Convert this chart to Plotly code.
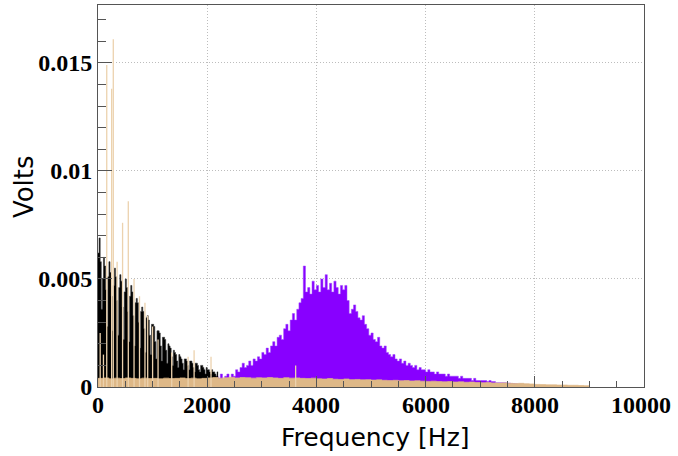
import numpy as np
import plotly.graph_objects as go

# ---------------- data (Volts vs Frequency [Hz]) ----------------
black_start, black_width = 0, 20
black_vals = [
    0.0062, 0.0069, 0.0058, 0.0036, 0.0050,
    0.0060, 0.0056, 0.0045, 0.0028, 0.0051,
    0.0058, 0.0053, 0.0042, 0.0026, 0.0047,
    0.0055, 0.0051, 0.0040, 0.0024, 0.0046,
    0.0052, 0.0049, 0.0037, 0.0022, 0.0044,
    0.0050, 0.0046, 0.0035, 0.0021, 0.0042,
    0.0047, 0.0044, 0.0033, 0.0019, 0.0039,
    0.0041, 0.0039, 0.0030, 0.0018, 0.0035,
    0.0037, 0.0035, 0.0027, 0.0016, 0.0032,
    0.0033, 0.0031, 0.0024, 0.0015, 0.0029,
    0.0029, 0.0028, 0.0021, 0.0013, 0.0026,
    0.0026, 0.0025, 0.0019, 0.0012, 0.0023,
    0.0023, 0.0022, 0.0017, 0.0011, 0.0020,
    0.0019, 0.0018, 0.0014, 0.0010, 0.0017,
    0.0016, 0.0015, 0.0012, 0.0009, 0.0015,
    0.0014, 0.0013, 0.0011, 0.0008, 0.0013,
    0.0013, 0.0012, 0.0010, 0.0008, 0.0012,
    0.0012, 0.0011, 0.0009, 0.0007, 0.0011,
    0.0011, 0.0010, 0.0008, 0.0007, 0.0010,
    0.0010, 0.0009, 0.0008, 0.0006, 0.0009,
    0.0008, 0.0008, 0.0007, 0.0006, 0.0008,
    0.0007, 0.0007, 0.0006, 0.0005, 0.0007,
]

purple_start, purple_width = 2120, 40
purple_vals = [
    0.0003, 0.0005, 0.0004, 0.0006, 0.0003, 0.0005, 0.0006, 0.0004, 0.0006, 0.0005,
    0.0008, 0.0007, 0.0009, 0.0011, 0.0009, 0.0010, 0.0012, 0.0010, 0.0013, 0.0012,
    0.0014, 0.0013, 0.0016, 0.0015, 0.0018, 0.0016, 0.0019, 0.0021, 0.0019, 0.0023,
    0.0024, 0.0022, 0.0027, 0.0029, 0.0026, 0.0031, 0.0034, 0.0031, 0.0036, 0.0039,
    0.0041, 0.0056, 0.0044, 0.0046, 0.0043, 0.0049, 0.0045, 0.0047, 0.0044, 0.0050,
    0.0046, 0.0052, 0.0045, 0.0048, 0.0044, 0.0049, 0.0046, 0.0043, 0.0047, 0.0045,
    0.0047, 0.0040, 0.0034, 0.0036, 0.0038, 0.0035, 0.0032, 0.0031, 0.0033, 0.0029,
    0.0027, 0.0024, 0.0025, 0.0022, 0.0021, 0.0023, 0.0019, 0.0018, 0.0019, 0.0016,
    0.0015, 0.0014, 0.0015, 0.0013, 0.0012, 0.0013, 0.0011, 0.0012, 0.0010, 0.0011,
    0.0010, 0.0009, 0.0010, 0.0008, 0.0009, 0.0008, 0.0008, 0.0007, 0.0008, 0.0007,
    0.0007, 0.0006, 0.0007, 0.0006, 0.0006, 0.0006, 0.0005, 0.0006, 0.0005, 0.0005,
    0.0005, 0.0005, 0.0004, 0.0005, 0.0004, 0.0004, 0.0004, 0.0004, 0.0003, 0.0004,
    0.0003, 0.0003, 0.0003, 0.0003, 0.0003, 0.00025, 0.0003, 0.00025, 0.00025, 0.0002,
    0.0002, 0.0002, 0.0002, 0.0002, 0.00018, 0.00018, 0.00016, 0.00016, 0.00015, 0.00014,
    0.00014, 0.00013, 0.00012, 0.00012, 0.0001, 0.0001, 0.0001, 0.00008,
]

tan_start, tan_width = 0, 100
tan_vals = [
    0.00040, 0.00042, 0.00038, 0.00041, 0.00039, 0.00042, 0.00040, 0.00038, 0.00041, 0.00039,
    0.00040, 0.00038, 0.00041, 0.00039, 0.00040, 0.00042, 0.00039, 0.00041, 0.00038, 0.00040,
    0.00042, 0.00044, 0.00041, 0.00043, 0.00045, 0.00042, 0.00044, 0.00043, 0.00041, 0.00043,
    0.00042, 0.00044, 0.00042, 0.00040, 0.00043, 0.00041, 0.00042, 0.00040, 0.00039, 0.00041,
    0.00038, 0.00037, 0.00039, 0.00036, 0.00035, 0.00037, 0.00034, 0.00035, 0.00033, 0.00034,
    0.00032, 0.00033, 0.00031, 0.00030, 0.00031, 0.00029, 0.00030, 0.00028, 0.00029, 0.00027,
    0.00026, 0.00027, 0.00025, 0.00024, 0.00025, 0.00023, 0.00024, 0.00022, 0.00023, 0.00021,
    0.00020, 0.00021, 0.00019, 0.00018, 0.00019, 0.00017, 0.00016, 0.00017, 0.00015, 0.00014,
    0.00012, 0.00011, 0.00010, 0.00010, 0.00009, 0.00009, 0.00008, 0.00008, 0.00007, 0.00006,
]

tan_spike_freqs = [40, 100, 160, 250, 280, 350, 450, 555, 660, 760, 860, 910,
                   1000, 1100, 1350, 1650, 1760, 2070, 3620]
tan_spike_vals = [0.0025, 0.0015, 0.0149, 0.0138, 0.0161, 0.0058, 0.0076, 0.0086,
                  0.0050, 0.0042, 0.0039, 0.0033, 0.0028, 0.0022, 0.0016, 0.0014,
                  0.0017, 0.0014, 0.0010]

x_ticks = [0, 2000, 4000, 6000, 8000, 10000]
x_tick_labels = ["0", "2000", "4000", "6000", "8000", "10000"]
y_ticks = [0, 0.005, 0.01, 0.015]
y_tick_labels = ["0", "0.005", "0.01", "0.015"]


def steps(start, width, vals):
    edges = start + width * np.arange(len(vals) + 1)
    return edges, list(vals) + [vals[-1]]


fig = go.Figure()

px_, py_ = steps(purple_start, purple_width, purple_vals)
fig.add_trace(go.Scatter(x=px_, y=py_, mode="lines", line_shape="hv",
                         line=dict(color="#9c45ff", width=0.5),
                         fill="tozeroy", fillcolor="#8800ff", hoverinfo="skip"))

bx, by = steps(black_start, black_width, black_vals)
fig.add_trace(go.Scatter(x=bx, y=by, mode="lines", line_shape="hv",
                         line=dict(color="#333333", width=0.6),
                         fill="tozeroy", fillcolor="#000000", hoverinfo="skip"))

tx, ty = steps(tan_start, tan_width, tan_vals)
fig.add_trace(go.Scatter(x=tx, y=ty, mode="lines", line_shape="hv",
                         line=dict(color="#deb887", width=0.7),
                         fill="tozeroy", fillcolor="#deb887", hoverinfo="skip"))

sx, sy = [], []
for f, v in zip(tan_spike_freqs, tan_spike_vals):
    sx += [f, f, None]
    sy += [0, v, None]
fig.add_trace(go.Scatter(x=sx, y=sy, mode="lines",
                         line=dict(color="#ecd2ae", width=1.3), hoverinfo="skip"))

tickfont = dict(family="Liberation Serif", size=24, color="black", weight="bold")
axis_common = dict(showline=True, linecolor="#555555", linewidth=1, mirror=True,
                   ticks="inside", tickcolor="#555555", showgrid=True,
                   gridcolor="#bdbdbd", griddash="1px,2px", gridwidth=1,
                   zeroline=False, tickfont=tickfont, automargin=False)

fig.update_xaxes(range=[0, 10000], tickvals=x_ticks, showticklabels=False,
                 ticklen=11,
                 minor=dict(ticks="inside", dtick=500, ticklen=6,
                            tickcolor="#555555", showgrid=False),
                 **axis_common)
fig.update_yaxes(range=[0, 0.01768], tickvals=y_ticks,
                 ticktext=y_tick_labels, ticklen=14,
                 minor=dict(ticks="inside", dtick=0.001, ticklen=8,
                            tickcolor="#555555", showgrid=False),
                 **axis_common)

# x tick labels; the last one is anchored by its right edge so it is not clamped
annotations = []
for val, lab in zip(x_ticks, x_tick_labels):
    if val == x_ticks[-1]:
        annotations.append(dict(text=lab, x=1.0531, xref="paper", y=-0.048,
                                yref="paper", xanchor="right", yanchor="middle",
                                showarrow=False, font=tickfont))
    else:
        annotations.append(dict(text=lab, x=val, xref="x", y=-0.048,
                                yref="paper", xanchor="center", yanchor="middle",
                                showarrow=False, font=tickfont))
annotations += [
    dict(text="Frequency [Hz]", xref="paper", yref="paper",
         x=0.509, y=-0.131, xanchor="center", yanchor="middle",
         showarrow=False,
         font=dict(family="DejaVu Sans", size=25, color="black")),
    dict(text="Volts", xref="paper", yref="paper",
         x=-0.135, y=0.524, xanchor="center", yanchor="middle",
         textangle=-90, showarrow=False,
         font=dict(family="DejaVu Sans", size=26, color="black")),
]

fig.update_layout(
    width=678, height=456,
    margin=dict(l=98, r=34, t=5, b=69, autoexpand=False),
    plot_bgcolor="white", paper_bgcolor="white",
    showlegend=False,
    annotations=annotations,
)

fig.write_html("out.html", config={"displayModeBar": False},
               post_script="document.body.style.margin='0px';"
                           "document.body.style.overflow='hidden';")
